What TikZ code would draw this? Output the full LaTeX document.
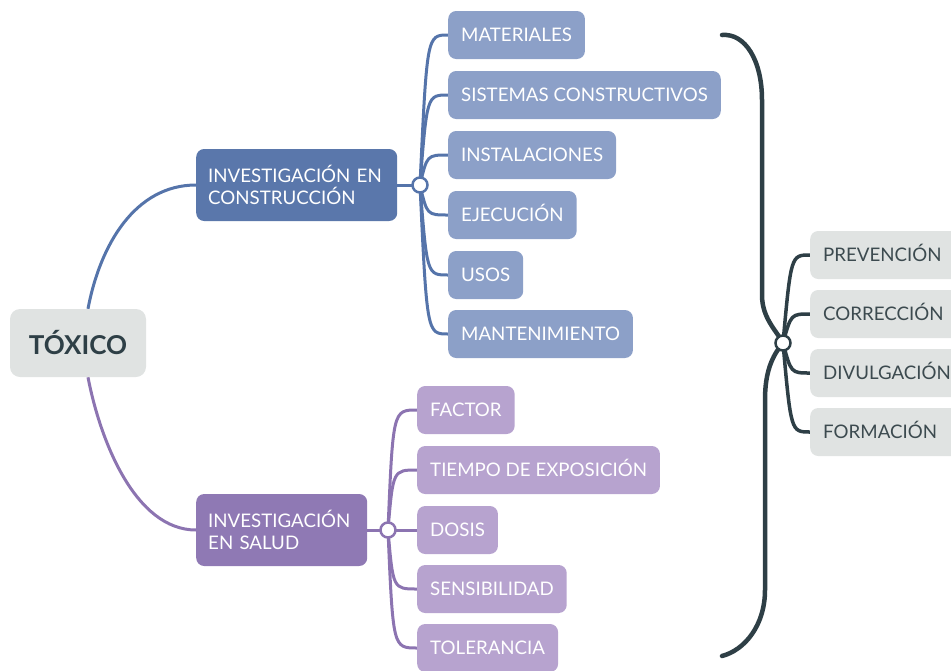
\documentclass[tikz,border=0pt]{standalone}
\usepackage{fontspec}
\setmainfont{Lato}
\usetikzlibrary{calc}
\pgfdeclarelayer{bg}
\pgfsetlayers{bg,main}
\definecolor{bluep}{HTML}{5A77AB}
\definecolor{bluec}{HTML}{8CA0C8}
\definecolor{bluel}{HTML}{5574AA}
\definecolor{purp}{HTML}{8F79B4}
\definecolor{purc}{HTML}{B7A3CF}
\definecolor{purl}{HTML}{8C74B1}
\definecolor{grayc}{HTML}{E0E3E2}
\definecolor{darkc}{HTML}{2E3F46}
\definecolor{graytext}{HTML}{3C4A4F}
\begin{document}
\begin{tikzpicture}[x=1pt,y=-1pt,
  box/.style={rounded corners=8pt, anchor=west, minimum height=48pt, inner xsep=13pt, inner ysep=0pt,
    text height=13.5pt, text depth=0pt, text=white, font=\fontsize{18.7}{22}\selectfont},
  bchild/.style={box, fill=bluec},
  pchild/.style={box, fill=purc},
  gchild/.style={box, fill=grayc, text=graytext, minimum width=160pt, align=left, text width=134pt},
  parent/.style={rounded corners=8pt, anchor=west, minimum height=72pt, inner xsep=12pt, inner ysep=0pt,
    text=white, align=left, font=\fontsize{18.7}{22.5}\selectfont},
  hubnode/.style={circle, draw, fill=white, line width=2.5pt, minimum size=15pt, inner sep=0pt},
  bline/.style={draw=bluel, line width=3pt},
  pline/.style={draw=purl, line width=3pt},
  dline/.style={draw=darkc, line width=4.5pt, line cap=round},
]
\useasboundingbox (0,0) rectangle (951,670);

% root
\node[rounded corners=10pt, fill=grayc, minimum width=136pt, minimum height=68pt, inner sep=0pt,
  text=darkc, font=\fontsize{26}{30}\bfseries\selectfont] (tox) at (78,343) {TÓXICO};

% parents
\node[parent, fill=bluep, text width=177pt] (bc) at (196,185) {INVESTIGACIÓN EN\\CONSTRUCCIÓN};
\node[parent, fill=purp, text width=147pt] (ps) at (196,530) {INVESTIGACIÓN\\EN SALUD};

% hubs
\node[hubnode, draw=bluel] (hb) at (420,185) {};
\node[hubnode, draw=purl] (hp) at (388,530) {};
\node[hubnode, draw=darkc] (hg) at (783,343) {};

% blue children
\node[bchild] (b1) at (448,35) {MATERIALES};
\node[bchild] (b2) at (448,95) {SISTEMAS CONSTRUCTIVOS};
\node[bchild] (b3) at (448,155) {INSTALACIONES};
\node[bchild] (b4) at (448,215) {EJECUCIÓN};
\node[bchild] (b5) at (448,275) {USOS};
\node[bchild] (b6) at (448,334) {MANTENIMIENTO};

% purple children
\node[pchild] (p1) at (417,410) {FACTOR};
\node[pchild] (p2) at (417,470) {TIEMPO DE EXPOSICIÓN};
\node[pchild] (p3) at (417,530) {DOSIS};
\node[pchild] (p4) at (417,589) {SENSIBILIDAD};
\node[pchild] (p5) at (417,648) {TOLERANCIA};

% gray children
\node[gchild] (g1) at (810,255) {PREVENCIÓN};
\node[gchild] (g2) at (810,314) {CORRECCIÓN};
\node[gchild] (g3) at (810,373) {DIVULGACIÓN};
\node[gchild] (g4) at (810,432) {FORMACIÓN};

% bracket end points
\coordinate (btop) at (722,35);
\coordinate (bbot) at (722,656);

\begin{pgfonlayer}{bg}
  % root to parents
  \draw[bline] ([xshift=10pt]tox.north) .. controls (100,245) and (135,185) .. (bc.west);
  \draw[pline] ([xshift=10pt]tox.south) .. controls (100,440) and (135,530) .. (ps.west);
  % parents to hubs
  \draw[bline] (bc.east) -- (hb.center);
  \draw[pline] (ps.east) -- (hp.center);
  % blue hub to children
  \foreach \c in {b1,b2,b3,b4,b5,b6}{
    \draw[bline] (hb.center) .. controls ([xshift=7pt]hb.center |- \c.west) .. (\c.west);
  }
  % purple hub to children
  \foreach \c in {p1,p2,p3,p4,p5}{
    \draw[pline] (hp.center) .. controls ([xshift=5pt]hp.center |- \c.west) .. (\c.west);
  }
  % gray hub to children
  \foreach \c in {g1,g2,g3,g4}{
    \draw[darkc, line width=3.5pt] (hg.center) .. controls ([xshift=8pt]hg.center |- \c.west) .. (\c.west);
  }
  % bracket
  \draw[dline] (btop) .. controls (745,33) and (762,60) .. (762,100) -- (762,295)
     .. controls (762,318) and (776,330) .. (hg.center)
     .. controls (772,356) and (765,372) .. (765,400) -- (765,590)
     .. controls (765,625) and (745,650) .. (bbot);
\end{pgfonlayer}
\end{tikzpicture}
\end{document}
